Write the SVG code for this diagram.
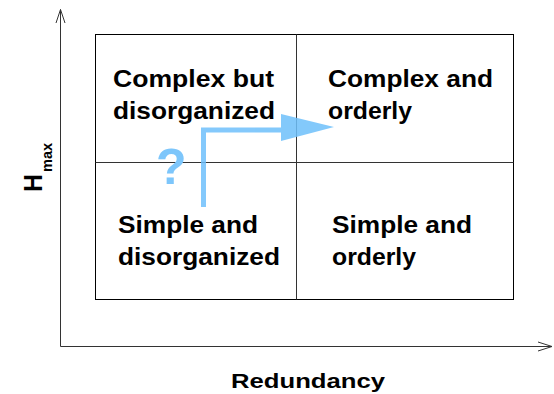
<svg xmlns="http://www.w3.org/2000/svg" width="554" height="394" viewBox="0 0 554 394">
<style>
.lbl{font-family:"Liberation Sans",Arial,sans-serif;font-weight:bold;font-size:24px;fill:#000}
.ax{stroke:#333;stroke-width:1;fill:none}
</style>
<rect width="554" height="394" fill="#fff"/>
<g id="axes">
<path class="ax" d="M60.5 346.5V9.5M56 23L60.5 9.5L65 23"/>
<path class="ax" d="M60.5 346.5H552M538 342L552 346.5L538 351"/>
</g>
<g id="grid" fill="none" stroke="#000" stroke-width="1">
<rect x="95.5" y="34.5" width="418" height="265"/>
<line x1="296.5" y1="34.5" x2="296.5" y2="299.5" stroke="#333"/>
<line x1="95.5" y1="162.5" x2="513.5" y2="162.5" stroke="#333"/>
</g>
<g id="q1"><text class="lbl" x="113" y="87" textLength="161" lengthAdjust="spacingAndGlyphs">Complex but</text><text class="lbl" x="113" y="119" textLength="162" lengthAdjust="spacingAndGlyphs">disorganized</text></g>
<g id="q2"><text class="lbl" x="328" y="87" textLength="165" lengthAdjust="spacingAndGlyphs">Complex and</text><text class="lbl" x="328" y="119" textLength="84" lengthAdjust="spacingAndGlyphs">orderly</text></g>
<g id="q3"><text class="lbl" x="118" y="233" textLength="140" lengthAdjust="spacingAndGlyphs">Simple and</text><text class="lbl" x="118" y="265" textLength="162" lengthAdjust="spacingAndGlyphs">disorganized</text></g>
<g id="q4"><text class="lbl" x="332" y="233" textLength="140" lengthAdjust="spacingAndGlyphs">Simple and</text><text class="lbl" x="332" y="265" textLength="84" lengthAdjust="spacingAndGlyphs">orderly</text></g>
<g id="connectors" opacity="0.85">
<path d="M203.5 207V130H282" fill="none" stroke="#6ec0fb" stroke-width="5"/>
<polygon points="281,114 334,127 281,141" fill="#6ec0fb"/>
</g>
<text x="156" y="184" font-family="Liberation Sans,Arial,sans-serif" font-weight="bold" font-size="50" fill="#7dc6fb">?</text>
<text class="lbl" x="231" y="388" style="font-size:21px" textLength="154" lengthAdjust="spacingAndGlyphs">Redundancy</text>
<g transform="translate(42,192) rotate(-90)"><text class="lbl" x="0" y="0" style="font-size:25px">H</text><text class="lbl" x="20" y="10" style="font-size:15px" textLength="29" lengthAdjust="spacingAndGlyphs">max</text></g>
</svg>
